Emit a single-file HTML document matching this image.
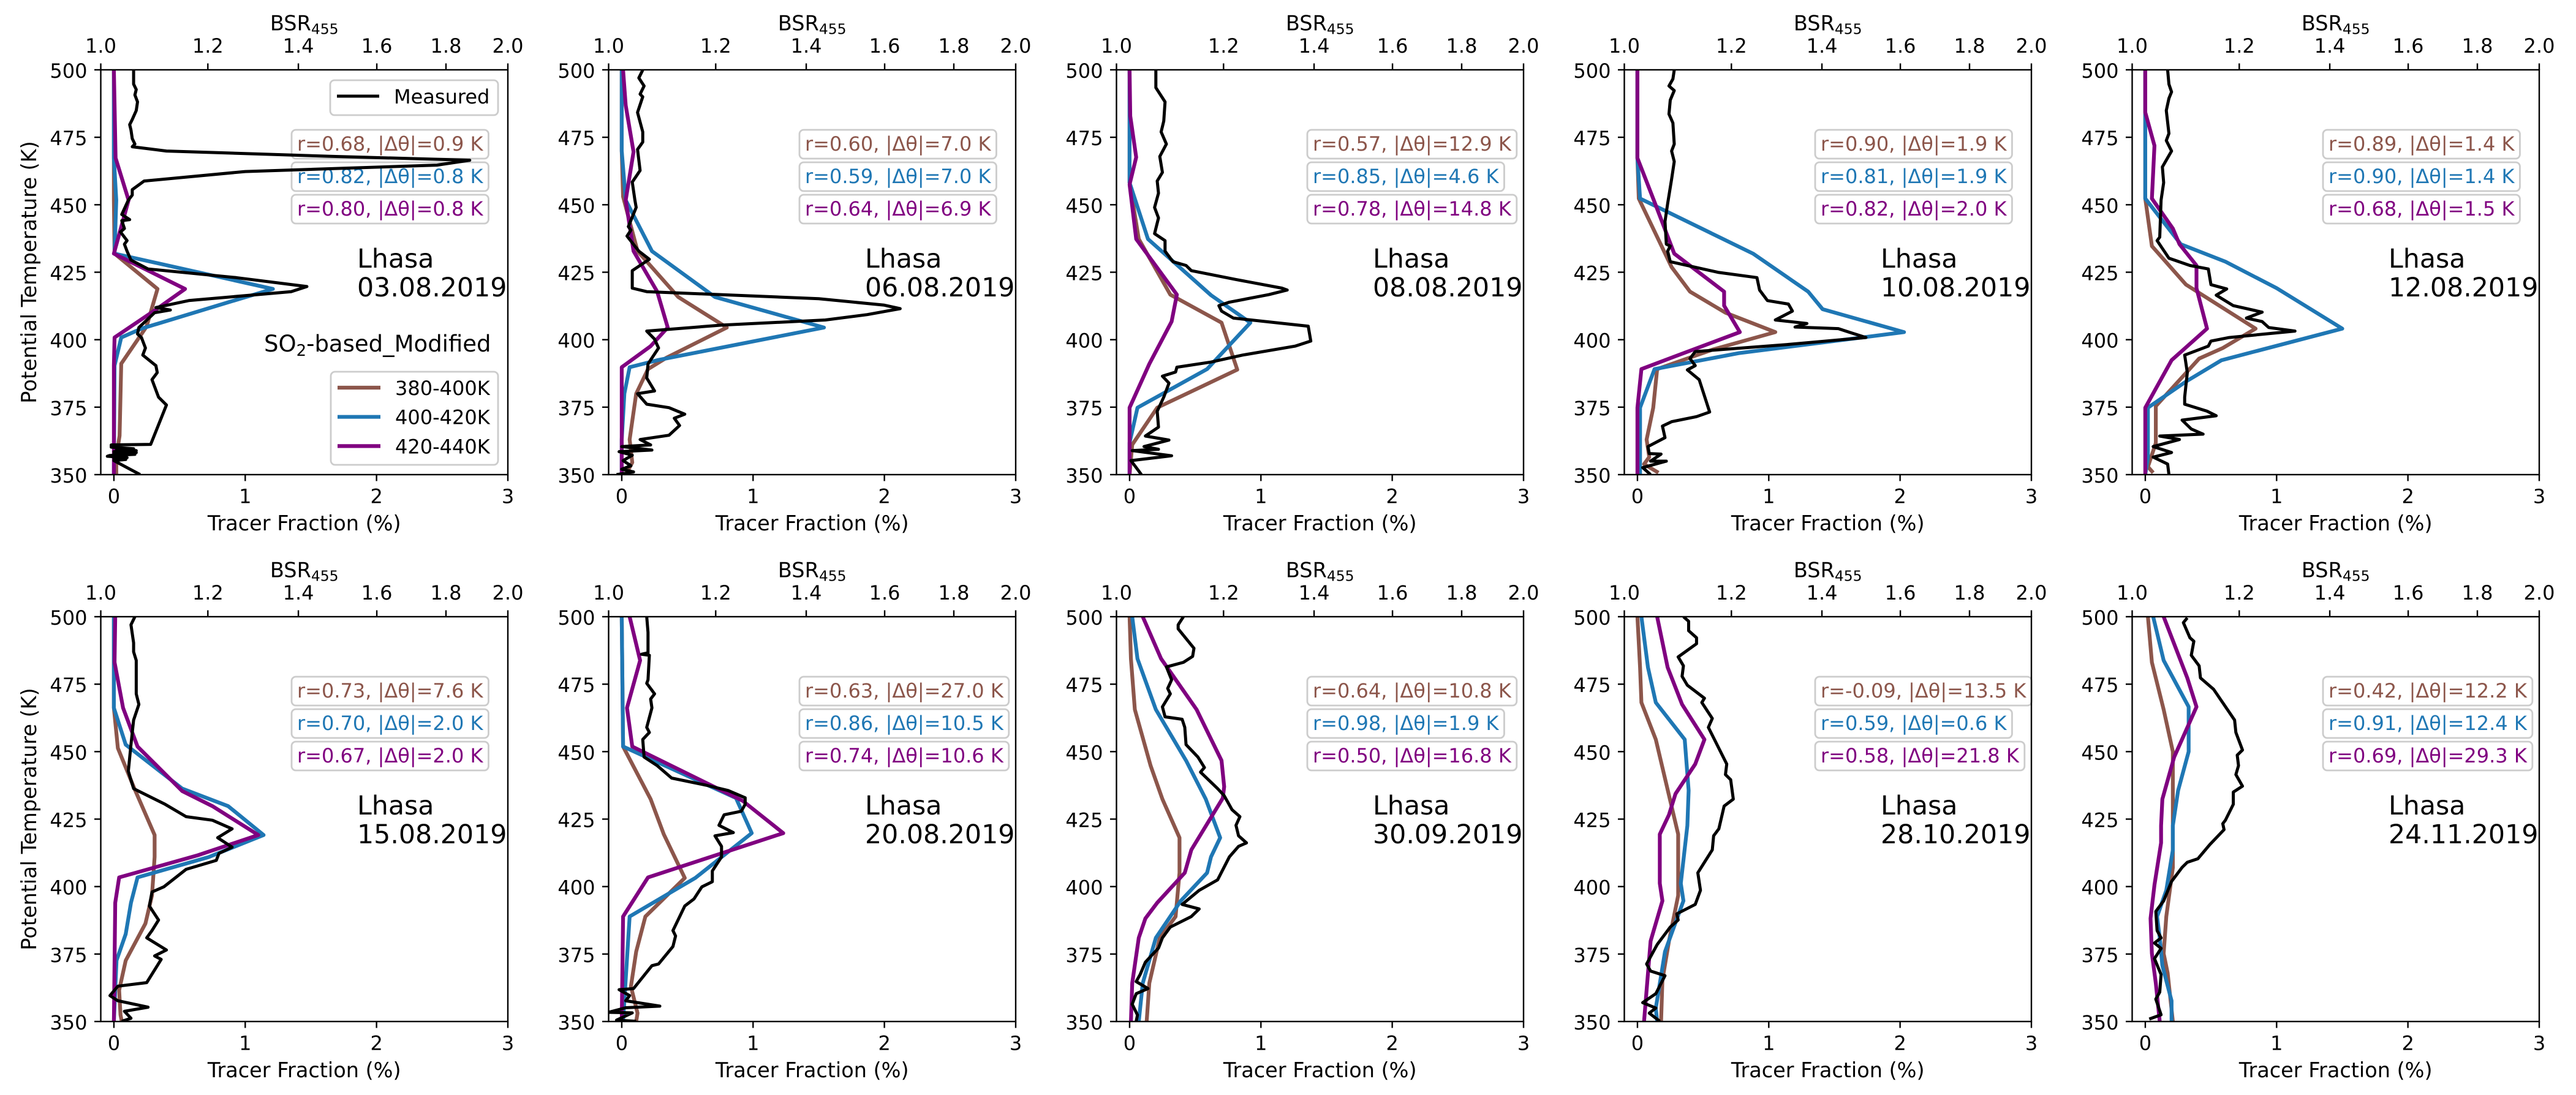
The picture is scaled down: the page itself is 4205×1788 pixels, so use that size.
<!DOCTYPE html>
<html lang="en">
<head>
<meta charset="utf-8">
<title>Lhasa tracer fraction and BSR profiles</title>
<style>
html,body{margin:0;padding:0;background:#fff;}
svg{display:block;font-family:"DejaVu Sans","Liberation Sans",sans-serif;}
</style>
</head>
<body>
<svg id="figure" width="4205" height="1788" viewBox="0 0 4205 1788" xmlns="http://www.w3.org/2000/svg">
<rect x="0" y="0" width="4205" height="1788" fill="#ffffff"/>
</svg>
<script>
const dates = ['03.08.2019','06.08.2019','08.08.2019','10.08.2019','12.08.2019','15.08.2019','20.08.2019','30.09.2019','28.10.2019','24.11.2019'];
const annotationBrown = ['r=0.68, |Δθ|=0.9 K','r=0.60, |Δθ|=7.0 K','r=0.57, |Δθ|=12.9 K','r=0.90, |Δθ|=1.9 K','r=0.89, |Δθ|=1.4 K','r=0.73, |Δθ|=7.6 K','r=0.63, |Δθ|=27.0 K','r=0.64, |Δθ|=10.8 K','r=-0.09, |Δθ|=13.5 K','r=0.42, |Δθ|=12.2 K'];
const annotationBlue = ['r=0.82, |Δθ|=0.8 K','r=0.59, |Δθ|=7.0 K','r=0.85, |Δθ|=4.6 K','r=0.81, |Δθ|=1.9 K','r=0.90, |Δθ|=1.4 K','r=0.70, |Δθ|=2.0 K','r=0.86, |Δθ|=10.5 K','r=0.98, |Δθ|=1.9 K','r=0.59, |Δθ|=0.6 K','r=0.91, |Δθ|=12.4 K'];
const annotationPurple = ['r=0.80, |Δθ|=0.8 K','r=0.64, |Δθ|=6.9 K','r=0.78, |Δθ|=14.8 K','r=0.82, |Δθ|=2.0 K','r=0.68, |Δθ|=1.5 K','r=0.67, |Δθ|=2.0 K','r=0.74, |Δθ|=10.6 K','r=0.50, |Δθ|=16.8 K','r=0.58, |Δθ|=21.8 K','r=0.69, |Δθ|=29.3 K'];
const fractionTicks = [0,1,2,3];
const bsrTicks = [1.0,1.2,1.4,1.6,1.8,2.0];
const thetaTicks = [350,375,400,425,450,475,500];

// Panel 1 — 03.08.2019
const p1MeasuredTheta = [499.9,494.7,492.7,490.7,488.1,484.9,481.6,479.7,477.7,474.5,472.5,471.5,469.9,467.9,466.5,464.7,462.3,458.8,455.6,453.6,451.7,446.4,444.5,444.1,441.2,439.9,436.7,435.4,432.8,429.5,426.2,423.0,419.7,417.8,414.5,411.9,411.0,410.0,404.5,402.1,400.8,396.9,394.3,390.4,387.8,385.2,378.7,375.8,361.2,361.0,360.2,359.6,359.2,358.9,358.5,358.2,357.9,357.5,357.1,356.8,356.3,355.9,355.6,355.2,350];
const p1MeasuredFraction = [.15,.15,.17,.16,.18,.17,.14,.12,.13,.14,.16,.14,.40,1.69,2.71,2.46,1.0,.23,.14,.14,.11,.06,.12,.06,.08,.05,.10,.08,.10,.13,.26,.93,1.47,1.35,.57,.32,.43,.31,.19,.18,.21,.24,.22,.32,.33,.29,.34,.40,.28,-.02,-.02,.15,.02,.17,0,.17,0,.16,-.03,-.05,.1,0,.09,0,.20];
const p1BrownTheta = [500,451.7,431.9,418.8,404.8,391.1,364.4,356.5,350];
const p1BrownFraction = [0,0,.005,.332,.248,.056,.043,.018,.018];
const p1BlueTheta = [500,467.3,451.7,431.9,418.8,413.9,404.1,400.8,390.4,350];
const p1BlueFraction = [0,0,.018,.005,1.211,.874,.21,.056,.005,0];
const p1PurpleTheta = [500,467.3,451.7,431.9,418.8,411.3,400.8,390.4,350];
const p1PurpleFraction = [0,.013,.112,0,.542,.324,.005,0,0];

// Panel 2 — 06.08.2019
const p2MeasuredTheta = [499.9,497,494,491,490,484.2,477,473.2,470.5,462.7,458.4,451.7,449,441.9,440.6,438.4,432.8,429.8,425.6,419.1,417.8,415.2,412.8,411.5,409.3,407.3,405.4,403.2,400.2,396.9,391,385.8,381,380,376.1,374.8,372.4,370.9,368.2,364.6,363,361,360.4,359.1,358.5,357.2,355.2,353.3,352,351,350];
const p2MeasuredFraction = [.16,.13,.17,.14,.16,.12,.16,.16,.12,.14,.08,.10,.11,.05,.07,.04,.13,.21,.08,.08,.19,1.50,2.0,2.12,1.87,1.55,.76,.19,.25,.28,.20,.19,.25,.12,.19,.36,.48,.40,.44,.36,.14,.22,0,.23,-.02,.08,.01,.07,0,.09,-.04];
const p2BrownTheta = [499.9,469.9,453,432.8,415.8,404.5,393.3,389.1,380,363,354.5,350];
const p2BrownFraction = [0,0,.01,.12,.43,.80,.34,.20,.11,.06,.08,.03];
const p2BlueTheta = [499.9,469.9,451.7,432.8,415.8,404.5,392.4,389.8,380,363,350];
const p2BlueFraction = [0,0,.03,.23,.71,1.54,.27,.06,.02,0,0];
const p2PurpleTheta = [499.9,486.8,469.6,451.7,432.8,417.8,404.5,397.6,389.8,350];
const p2PurpleFraction = [.01,.03,.09,.03,.09,.27,.35,.22,0,0];

// Panel 3 — 08.08.2019
const p3MeasuredTheta = [499.9,493.4,488.1,481,477,472.5,467.9,462,458.8,454.3,449,445.1,439.3,436.7,432.8,428.9,427.5,425.6,422.3,419.1,418.4,416.7,413.9,412.6,410.6,408,405,399.5,397.6,394.3,391.7,389.8,388,386.5,383.9,378.7,373.5,367.6,364.3,362.8,360.4,359.4,358.9,357,355.2,352.6,350];
const p3MeasuredFraction = [.20,.20,.27,.26,.24,.28,.23,.25,.21,.22,.19,.22,.19,.27,.27,.33,.43,.47,.81,1.16,1.20,1.06,.76,.68,.70,.79,1.36,1.38,1.26,.86,.62,.36,.35,.25,.30,.26,.21,.22,.12,.30,.11,.22,.02,.32,.01,.05,.09];
const p3BrownTheta = [499.9,482.9,458.2,437.3,416.7,406.3,388.9,374.8,361.1,350];
const p3BrownFraction = [0,0,0,.07,.31,.70,.82,.21,.02,0];
const p3BlueTheta = [499.9,482.9,458.2,437.3,416.5,406.3,389.1,374.8,361.8,350];
const p3BlueFraction = [0,0,0,.14,.62,.92,.59,.06,0,0];
const p3PurpleTheta = [499.9,482.9,467.6,457.5,437.3,416.7,406.7,391,374.8,350];
const p3PurpleFraction = [0,.005,.05,0,.05,.36,.32,.15,0,0];

// Panel 4 — 10.08.2019
const p4MeasuredTheta = [499.9,496.6,494,492.3,488.8,483.6,480.3,472.5,469.9,466,459.5,450.4,443.8,435.4,434.7,432.8,428.9,424.9,423,418.4,414.5,413.2,410.6,407.3,406,404.7,404.1,402.8,400.8,398.2,395.6,393,390.4,388.8,385.2,373.2,371.5,369.6,368,363.7,360.4,357.8,357.6,355,355,352.6,350];
const p4MeasuredFraction = [.28,.27,.24,.28,.25,.24,.27,.28,.26,.28,.26,.23,.21,.22,.25,.23,.25,.62,.91,.93,.99,1.15,1.18,1.05,1.29,1.20,1.53,1.61,1.74,1.14,.44,.40,.44,.38,.47,.55,.45,.26,.19,.21,.08,.09,.18,.10,.22,.04,.10];
const p4BrownTheta = [499.9,467.3,452.3,426.9,417.8,410,402.8,396.3,389.1,374.8,363,356.5,353.9,350.7];
const p4BrownFraction = [0,0,.01,.26,.40,.67,1.05,.57,.15,.12,.07,.09,.05,.16];
const p4BlueTheta = [499.9,467.3,452.3,431.9,417.8,411.3,402.8,395,389.1,374.8,350];
const p4BlueFraction = [0,0,.02,.88,1.30,1.41,2.03,.77,.13,.02,.02];
const p4PurpleTheta = [499.9,467.3,451,431.9,417.8,412.6,402.8,393.7,389.1,374.8,350];
const p4PurpleFraction = [0,0,.13,.28,.66,.66,.78,.28,.03,0,0];

// Panel 5 — 12.08.2019
const p5MeasuredTheta = [499.9,494.7,491.8,489.4,484.9,476.4,473.8,469.9,464,458.2,451.7,438,436.7,430.2,427.5,426.2,420.4,418.8,416.5,412.6,410.2,408,406.7,404.5,403.2,400.8,399.5,397.6,394.3,387.8,378.7,376.1,373.5,371.8,370.2,366.9,365,364.3,363,360.4,358.2,356.5,353.9,350];
const p5MeasuredFraction = [.17,.18,.20,.18,.16,.18,.16,.20,.13,.14,.12,.11,.09,.18,.34,.48,.50,.62,.54,.67,.89,.77,.89,.94,1.14,.64,.50,.48,.30,.32,.30,.30,.47,.54,.28,.35,.44,.11,.26,.06,.20,.06,.17,.18];
const p5BrownTheta = [499.9,484.2,452.3,434.7,420.4,404.1,396.9,393,375.4,361.7,352.9,350.7];
const p5BrownFraction = [0,0,0,.05,.31,.84,.59,.41,.08,.08,.02,.06];
const p5BlueTheta = [499.9,484.2,452.3,435.4,428.9,419.1,404.1,392.4,384.5,374.8,356.5,350];
const p5BlueFraction = [0,0,0,.27,.61,1.0,1.50,.58,.31,.02,.02,0];
const p5PurpleTheta = [499.9,484.2,471.9,452.3,441.2,435.4,427.5,419.1,404.1,392.4,374.8,350];
const p5PurpleFraction = [0,0,.07,.05,.21,.26,.39,.39,.47,.20,0,0];

// Panel 6 — 15.08.2019
const p6MeasuredTheta = [500,497,490.3,487,483.8,476.6,471.4,467.5,461.7,452.6,442.8,436.3,430.5,425.9,424.6,421.4,418.1,414.6,412.3,409.7,406.4,399.9,398,392.8,387.6,383.7,381,376.5,374.3,373,364.4,363.1,359.6,357.7,355.3,353.8,351.2,350.1];
const p6MeasuredFraction = [.16,.13,.15,.15,.17,.17,.17,.19,.15,.13,.11,.15,.39,.55,.75,.90,.79,.90,.80,.78,.55,.38,.29,.27,.34,.29,.25,.40,.31,.36,.25,.03,-.03,.03,.26,.08,.13,.06];
const p6BrownTheta = [500,466.2,451.3,437,419.1,411,396.7,386.3,372.6,361.6,352.5,350];
const p6BrownFraction = [0,0,.03,.15,.31,.31,.29,.24,.09,.04,.05,.06];
const p6BlueTheta = [500,466.2,452.6,436.3,429.8,419.1,410.9,403.4,394,382.4,372.6,350];
const p6BlueFraction = [0,0,.09,.52,.87,1.14,.72,.18,.13,.09,.02,0];
const p6PurpleTheta = [500,483.1,466.2,451.9,435.4,429.8,419.1,411.6,403.4,394,350];
const p6PurpleFraction = [.01,.005,.07,.18,.52,.75,1.10,.64,.04,.01,0];

// Panel 7 — 20.08.2019
const p7MeasuredTheta = [500,494.2,486.6,486.1,485.7,476.6,475.3,471.4,469.5,466.2,459,457.1,454.5,448,444.8,440.2,437.6,435.6,432.9,430.5,427.9,426.6,422.7,420,418.8,414.9,411,405.8,401.8,399.9,395.4,392.8,383.7,381.7,377.8,371.3,370.7,362.2,361.8,359.6,357.7,355.7,355.1,353.4,353.2,350.5,350.1];
const p7MeasuredFraction = [.19,.20,.20,.15,.21,.20,.19,.25,.22,.23,.19,.21,.16,.17,.27,.38,.64,.81,.94,.94,.91,.78,.74,.85,.71,.76,.76,.69,.69,.61,.55,.48,.39,.41,.39,.28,.23,.09,-.02,.06,.03,.29,.03,-.10,.08,-.04,.11];
const p7BrownTheta = [500,451.9,432.4,419.4,403.2,388.9,375.9,363,353.1,350];
const p7BrownFraction = [0,.01,.22,.32,.48,.18,.11,.07,.12,.11];
const p7BlueTheta = [500,451.9,432.8,419.8,403.2,388.9,350];
const p7BlueFraction = [0,.01,.87,.99,.56,.06,.01];
const p7PurpleTheta = [500,483.8,466.2,451.9,431.8,419.8,403.4,388.9,350];
const p7PurpleFraction = [.06,.14,.04,.08,.92,1.23,.20,.01,0];

// Panel 8 — 30.09.2019
const p8MeasuredTheta = [500,497,495.5,488.3,485.3,483.1,481.4,476.6,473.4,471.4,466.6,462.9,462,459,452.6,448,444.1,442.4,436.3,433.7,428.5,425.9,422.7,418.8,416.2,414.9,411,402.5,398.6,393.4,391.7,388.9,385,381,377.2,372,367.4,364.8,362.2,360.3,356.4,352.4,350.1];
const p8MeasuredFraction = [.41,.37,.37,.49,.48,.41,.28,.32,.29,.31,.25,.27,.40,.42,.43,.52,.57,.54,.67,.72,.78,.84,.81,.83,.89,.83,.76,.67,.53,.40,.53,.47,.31,.25,.22,.12,.08,.05,.14,.05,.02,.06,.05];
const p8BrownTheta = [500,484.4,465.6,444.8,432.4,418.1,405.1,388.9,381,364.2,350];
const p8BrownFraction = [0,.01,.04,.16,.25,.38,.38,.35,.23,.15,.13];
const p8BlueTheta = [500,484.4,465.6,446.7,432.4,418.1,411,405.1,394.7,381,364.2,350];
const p8BlueFraction = [.02,.06,.20,.43,.58,.69,.62,.59,.39,.20,.10,.07];
const p8PurpleTheta = [500,484.4,465.6,446.7,437,432.8,413.6,405.1,394,388.2,381,364.2,350];
const p8PurpleFraction = [.10,.24,.51,.70,.72,.71,.47,.42,.21,.12,.07,.02,.01];

// Panel 9 — 28.10.2019
const p9MeasuredTheta = [500,498.3,494.8,492.2,490,485.1,481.8,477.9,474.6,469.8,468.2,462.3,459,445.4,441.5,439.6,432.4,429.8,421.4,418.8,413.6,409,405.1,398.6,393.4,389.9,387.6,385,378.5,371.3,368.7,367,360.3,357,355,353.1,350.1];
const p9MeasuredFraction = [.35,.39,.39,.45,.45,.31,.35,.34,.38,.51,.49,.57,.54,.68,.67,.71,.73,.66,.62,.58,.57,.51,.46,.48,.44,.30,.31,.25,.15,.07,.10,.21,.14,.04,.14,.09,.17];
const p9BrownTheta = [500,481.2,468.2,454.5,419.4,396.7,379.8,365.4,350];
const p9BrownFraction = [0,.02,.03,.14,.31,.31,.24,.19,.18];
const p9BlueTheta = [500,481.2,468.2,454.5,435.6,422.6,401.2,394.7,375.9,355,350];
const p9BlueFraction = [.03,.08,.14,.36,.39,.38,.33,.35,.21,.14,.15];
const p9PurpleTheta = [500,481.2,467.5,454.5,445.4,434.4,426.6,419.4,401.2,394.7,379.8,350];
const p9PurpleFraction = [.15,.23,.34,.51,.44,.29,.24,.17,.17,.19,.10,.05];

// Panel 10 — 24.11.2019
const p10MeasuredTheta = [499.6,497.8,492.2,490.9,485.7,481.8,477.3,473.1,461.7,457.1,450.6,448.7,444.8,441.5,437.2,435,430.5,424.6,423.3,421.1,415.5,410.3,409,407.1,401.9,394.7,390.8,383.7,381,379.1,377.1,373.3,367.4,360.9,358.3,352.5,350.9];
const p10MeasuredFraction = [.32,.29,.34,.37,.35,.41,.42,.52,.68,.69,.74,.70,.71,.69,.74,.67,.67,.61,.59,.60,.49,.40,.32,.28,.20,.14,.08,.09,.12,.07,.12,.07,.12,.11,.08,.12,.03];
const p10BrownTheta = [500,483.1,465.6,450,422.6,407,388.9,375.2,368,350];
const p10BrownFraction = [.02,.05,.14,.21,.21,.21,.16,.14,.17,.21];
const p10BlueTheta = [500,483.8,466.6,450,435.6,422.6,413.6,398.6,388.9,381,370.7,357.7,350];
const p10BlueFraction = [.06,.14,.33,.33,.25,.21,.21,.16,.09,.11,.13,.20,.20];
const p10PurpleTheta = [500,477.3,466.6,448,432.4,422.6,416.2,400.6,388.2,375.2,364.2,350];
const p10PurpleFraction = [.14,.32,.39,.22,.13,.12,.12,.07,.04,.05,.08,.11];

const measuredThetas = [p1MeasuredTheta,p2MeasuredTheta,p3MeasuredTheta,p4MeasuredTheta,p5MeasuredTheta,p6MeasuredTheta,p7MeasuredTheta,p8MeasuredTheta,p9MeasuredTheta,p10MeasuredTheta];
const measuredFractions = [p1MeasuredFraction,p2MeasuredFraction,p3MeasuredFraction,p4MeasuredFraction,p5MeasuredFraction,p6MeasuredFraction,p7MeasuredFraction,p8MeasuredFraction,p9MeasuredFraction,p10MeasuredFraction];
const brownThetas = [p1BrownTheta,p2BrownTheta,p3BrownTheta,p4BrownTheta,p5BrownTheta,p6BrownTheta,p7BrownTheta,p8BrownTheta,p9BrownTheta,p10BrownTheta];
const brownFractions = [p1BrownFraction,p2BrownFraction,p3BrownFraction,p4BrownFraction,p5BrownFraction,p6BrownFraction,p7BrownFraction,p8BrownFraction,p9BrownFraction,p10BrownFraction];
const blueThetas = [p1BlueTheta,p2BlueTheta,p3BlueTheta,p4BlueTheta,p5BlueTheta,p6BlueTheta,p7BlueTheta,p8BlueTheta,p9BlueTheta,p10BlueTheta];
const blueFractions = [p1BlueFraction,p2BlueFraction,p3BlueFraction,p4BlueFraction,p5BlueFraction,p6BlueFraction,p7BlueFraction,p8BlueFraction,p9BlueFraction,p10BlueFraction];
const purpleThetas = [p1PurpleTheta,p2PurpleTheta,p3PurpleTheta,p4PurpleTheta,p5PurpleTheta,p6PurpleTheta,p7PurpleTheta,p8PurpleTheta,p9PurpleTheta,p10PurpleTheta];
const purpleFractions = [p1PurpleFraction,p2PurpleFraction,p3PurpleFraction,p4PurpleFraction,p5PurpleFraction,p6PurpleFraction,p7PurpleFraction,p8PurpleFraction,p9PurpleFraction,p10PurpleFraction];

const BROWN = '#8c564b', BLUE = '#1f77b4', PURPLE = '#800080', BLACK = '#000000';
const LEFT0 = 164.5, COLSTEP = 829, PW = 664.5, PH = 661, TOPS = [114, 1007];
const XMIN = -0.1, XMAX = 3, TMIN = 350, TMAX = 500;
const FONT = 32, AXISFONT = 33.5, BIGFONT = 42.7, LEGENDTITLEFONT = 37;
const MODELWIDTH = 6.2, MEASUREDWIDTH = 5, SPINEWIDTH = 2.4;
const svg = document.getElementById('figure');
const NS = 'http://www.w3.org/2000/svg';

function xScale(v, left) { return left + (v - XMIN) / (XMAX - XMIN) * PW; }
function bsrScale(v, left) { return left + Math.log10(v) / Math.log10(2) * PW; }
function yScale(v, top) { return top + (TMAX - v) / (TMAX - TMIN) * PH; }

function addLabel(parent, str, x, y, size, anchor, fill, name) {
  const t = document.createElementNS(NS, 'text');
  
  
  t.setAttribute('x', x);
  t.setAttribute('y', y);
  t.setAttribute('font-size', size);
  t.setAttribute('text-anchor', anchor);
  t.setAttribute('fill', fill);
  t.textContent = str;
  parent.appendChild(t);
  return t;
}
function addSegment(parent, x1, y1, x2, y2, stroke, width, name) {
  const l = document.createElementNS(NS, 'line');
  
  
  l.setAttribute('x1', x1);
  l.setAttribute('y1', y1);
  l.setAttribute('x2', x2);
  l.setAttribute('y2', y2);
  l.setAttribute('stroke', stroke);
  l.setAttribute('stroke-width', width);
  parent.appendChild(l);
  return l;
}
function addSeries(parent, thetas, fractions, left, top, color, width, clipId, name) {
  const p = document.createElementNS(NS, 'polyline');
  
  
  const pts = thetas.map(function (th, i) {
    return xScale(fractions[i], left).toFixed(1) + ',' + yScale(th, top).toFixed(1);
  });
  p.setAttribute('points', pts.join(' '));
  p.setAttribute('fill', 'none');
  p.setAttribute('stroke', color);
  p.setAttribute('stroke-width', width);
  p.setAttribute('stroke-linejoin', 'round');
  p.setAttribute('stroke-linecap', 'butt');
  p.setAttribute('clip-path', 'url(#' + clipId + ')');
  parent.appendChild(p);
  return p;
}
function addBox(parent, x, y, w, h, r, name) {
  const b = document.createElementNS(NS, 'rect');
  
  
  b.setAttribute('x', x);
  b.setAttribute('y', y);
  b.setAttribute('width', w);
  b.setAttribute('height', h);
  b.setAttribute('rx', r);
  b.setAttribute('fill', '#ffffff');
  b.setAttribute('fill-opacity', '0.8');
  b.setAttribute('stroke', '#cccccc');
  b.setAttribute('stroke-width', 2.8);
  parent.appendChild(b);
  return b;
}

const defs = document.createElementNS(NS, 'defs');
svg.appendChild(defs);

dates.forEach(function (date, i) {
  const col = i % 5, row = Math.floor(i / 5);
  const left = LEFT0 + col * COLSTEP, top = TOPS[row];
  const right = left + PW, bottom = top + PH;
  const slug = 'panel-' + date.replace(/\./g, '-');

  const g = document.createElementNS(NS, 'g');
  
  
  svg.appendChild(g);

  const clip = document.createElementNS(NS, 'clipPath');
  clip.setAttribute('id', 'clip' + i);
  const cr = document.createElementNS(NS, 'rect');
  cr.setAttribute('x', left);
  cr.setAttribute('y', top);
  cr.setAttribute('width', PW);
  cr.setAttribute('height', PH);
  clip.appendChild(cr);
  defs.appendChild(clip);

  // annotation boxes
  const annos = [[annotationBrown[i], BROWN, 'brown'], [annotationBlue[i], BLUE, 'blue'], [annotationPurple[i], PURPLE, 'purple']];
  annos.forEach(function (a, k) {
    const tx = left + 320.5, base = top + 132 + k * 53;
    const box = addBox(g, tx - 9, base - 34, 100, 47, 7, 'stat-box-' + a[2]);
    const t = addLabel(g, a[0], tx, base, FONT, 'start', a[1], 'stat-label-' + a[2]);
    box.setAttribute('width', t.getComputedTextLength() + 18);
  });

  // station / date label
  addLabel(g, 'Lhasa', left + 418.5, top + 323, BIGFONT, 'start', BLACK, 'station-label');
  addLabel(g, date, left + 418.5, top + 370, BIGFONT, 'start', BLACK, 'date-label');

  // series
  addSeries(g, brownThetas[i], brownFractions[i], left, top, BROWN, MODELWIDTH, 'clip' + i, 'series-380-400k');
  addSeries(g, blueThetas[i], blueFractions[i], left, top, BLUE, MODELWIDTH, 'clip' + i, 'series-400-420k');
  addSeries(g, purpleThetas[i], purpleFractions[i], left, top, PURPLE, MODELWIDTH, 'clip' + i, 'series-420-440k');
  addSeries(g, measuredThetas[i], measuredFractions[i], left, top, BLACK, MEASUREDWIDTH, 'clip' + i, 'series-measured');

  // spines
  const frame = document.createElementNS(NS, 'rect');
  
  
  frame.setAttribute('x', left);
  frame.setAttribute('y', top);
  frame.setAttribute('width', PW);
  frame.setAttribute('height', PH);
  frame.setAttribute('fill', 'none');
  frame.setAttribute('stroke', '#000');
  frame.setAttribute('stroke-width', SPINEWIDTH);
  g.appendChild(frame);

  // bottom axis
  fractionTicks.forEach(function (v) {
    const x = xScale(v, left);
    addSegment(g, x, bottom, x, bottom + 10.5, '#000', SPINEWIDTH, 'x-tick');
    addLabel(g, String(v), x, bottom + 46.5, FONT, 'middle', BLACK, 'x-tick-label');
  });
  addLabel(g, 'Tracer Fraction (%)', left + PW / 2, bottom + 91, AXISFONT, 'middle', BLACK, 'x-axis-title');

  // top log axis
  bsrTicks.forEach(function (v) {
    const x = bsrScale(v, left);
    addSegment(g, x, top, x, top - 10.5, '#000', SPINEWIDTH, 'top-tick');
    addLabel(g, v.toFixed(1), x, top - 28, FONT, 'middle', BLACK, 'top-tick-label');
  });
  const bsr = addLabel(g, 'BSR', left + PW / 2, top - 64.5, AXISFONT, 'middle', BLACK, 'top-axis-title');
  const bsrSub = document.createElementNS(NS, 'tspan');
  bsrSub.setAttribute('font-size', AXISFONT * 0.7);
  bsrSub.setAttribute('dy', 6);
  bsrSub.textContent = '455';
  bsr.appendChild(bsrSub);

  // y axis
  thetaTicks.forEach(function (v) {
    const y = yScale(v, top);
    addSegment(g, left, y, left - 10.5, y, '#000', SPINEWIDTH, 'y-tick');
    addLabel(g, String(v), left - 22, y + 13, FONT, 'end', BLACK, 'y-tick-label');
  });
  if (col === 0) {
    const yt = addLabel(g, 'Potential Temperature (K)', 0, 0, AXISFONT, 'middle', BLACK, 'y-axis-title');
    yt.setAttribute('transform', 'translate(59 ' + (top + PH / 2) + ') rotate(-90)');
  }
});

// legends in first panel
const legendTop = document.createElementNS(NS, 'g');


svg.appendChild(legendTop);
addBox(legendTop, 539, 131, 274, 57, 7, 'legend-measured-frame');
addSegment(legendTop, 550, 157, 619, 157, BLACK, MEASUREDWIDTH, 'legend-measured-line');
addLabel(legendTop, 'Measured', 643, 169, FONT, 'start', BLACK, 'legend-measured-label');

const legendTitle = addLabel(svg, 'SO', 431, 574, LEGENDTITLEFONT, 'start', BLACK, 'legend-title');
const so2Sub = document.createElementNS(NS, 'tspan');
so2Sub.setAttribute('font-size', LEGENDTITLEFONT * 0.7);
so2Sub.setAttribute('dy', 7);
so2Sub.textContent = '2';
legendTitle.appendChild(so2Sub);
const so2Rest = document.createElementNS(NS, 'tspan');
so2Rest.setAttribute('dy', -7);
so2Rest.textContent = '-based_Modified';
legendTitle.appendChild(so2Rest);

const legendLayers = document.createElementNS(NS, 'g');


svg.appendChild(legendLayers);
addBox(legendLayers, 540, 607, 273, 152, 7, 'legend-layers-frame');
const legendEntries = [['380-400K', BROWN], ['400-420K', BLUE], ['420-440K', PURPLE]];
legendEntries.forEach(function (e, k) {
  const y = 633 + k * 47.7;
  addSegment(legendLayers, 551, y, 621, y, e[1], MODELWIDTH, 'legend-line-' + e[0]);
  addLabel(legendLayers, e[0], 645, y + 12, FONT, 'start', BLACK, 'legend-entry-' + e[0]);
});
</script>
</body>
</html>
